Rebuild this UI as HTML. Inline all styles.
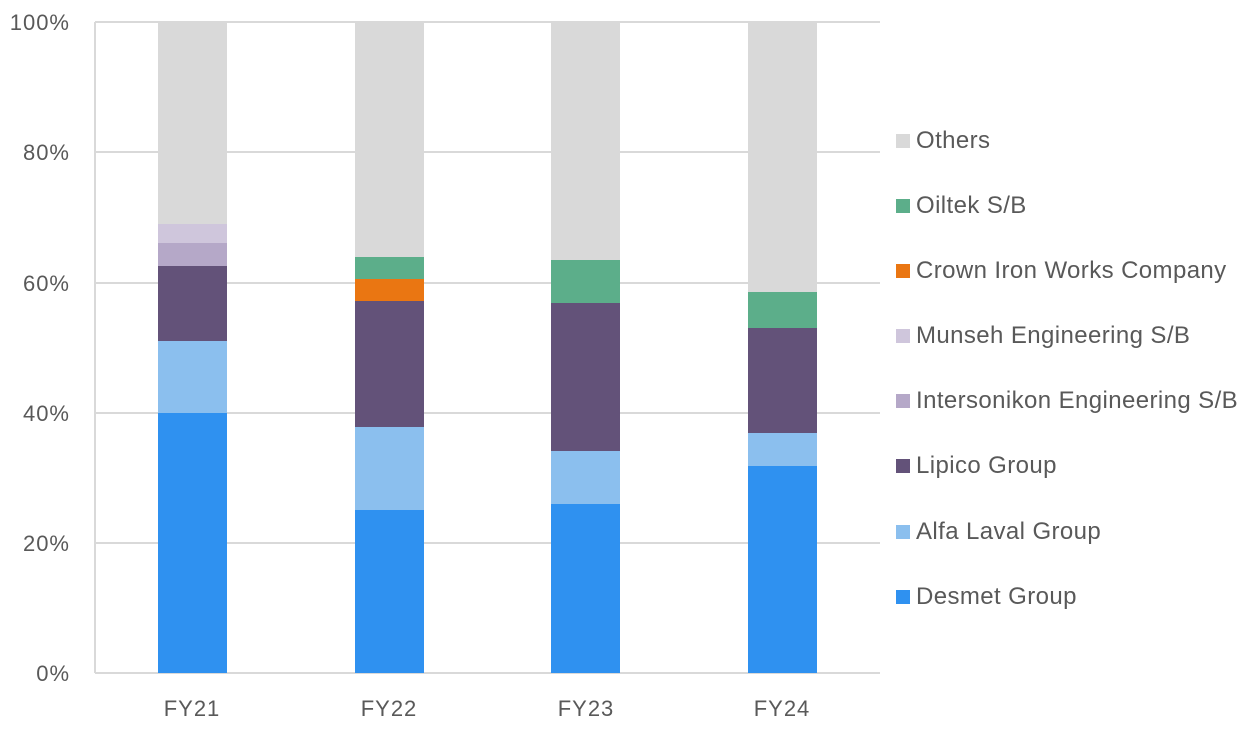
<!DOCTYPE html>
<html><head><style>body{margin:0;background:#fff}svg text{font-family:"Liberation Sans",sans-serif;fill:#595959}</style></head><body>
<svg width="1255" height="728" xmlns="http://www.w3.org/2000/svg">
<g stroke="#d9d9d9" stroke-width="2">
<line x1="95" y1="22" x2="880" y2="22"/><line x1="95" y1="152" x2="880" y2="152"/><line x1="95" y1="283" x2="880" y2="283"/><line x1="95" y1="413" x2="880" y2="413"/><line x1="95" y1="543" x2="880" y2="543"/><line x1="95" y1="673" x2="880" y2="673"/><line x1="95" y1="22" x2="95" y2="673"/>
</g>
<g font-size="22" text-anchor="end" letter-spacing="1">
<text x="70" y="30">100%</text><text x="70" y="160">80%</text><text x="70" y="291">60%</text><text x="70" y="421">40%</text><text x="70" y="551">20%</text><text x="70" y="681">0%</text>
</g>
<g font-size="22" text-anchor="middle" letter-spacing="1">
<text x="192" y="716">FY21</text><text x="389" y="716">FY22</text><text x="586" y="716">FY23</text><text x="782" y="716">FY24</text>
</g>
<rect x="158" y="22" width="69" height="202" fill="#d9d9d9"/>
<rect x="158" y="224" width="69" height="19" fill="#cfc6dc"/>
<rect x="158" y="243" width="69" height="23" fill="#b5a8c8"/>
<rect x="158" y="266" width="69" height="75" fill="#635279"/>
<rect x="158" y="341" width="69" height="72" fill="#8bbfee"/>
<rect x="158" y="413" width="69" height="260" fill="#2f91f0"/>
<rect x="355" y="22" width="69" height="235" fill="#d9d9d9"/>
<rect x="355" y="257" width="69" height="22" fill="#5cae8a"/>
<rect x="355" y="279" width="69" height="22" fill="#ea7612"/>
<rect x="355" y="301" width="69" height="126" fill="#635279"/>
<rect x="355" y="427" width="69" height="83" fill="#8bbfee"/>
<rect x="355" y="510" width="69" height="163" fill="#2f91f0"/>
<rect x="551" y="22" width="69" height="238" fill="#d9d9d9"/>
<rect x="551" y="260" width="69" height="43" fill="#5cae8a"/>
<rect x="551" y="303" width="69" height="148" fill="#635279"/>
<rect x="551" y="451" width="69" height="53" fill="#8bbfee"/>
<rect x="551" y="504" width="69" height="169" fill="#2f91f0"/>
<rect x="748" y="22" width="69" height="270" fill="#d9d9d9"/>
<rect x="748" y="292" width="69" height="36" fill="#5cae8a"/>
<rect x="748" y="328" width="69" height="105" fill="#635279"/>
<rect x="748" y="433" width="69" height="33" fill="#8bbfee"/>
<rect x="748" y="466" width="69" height="207" fill="#2f91f0"/>
<g font-size="24" letter-spacing="0.4">
<rect x="896" y="134" width="14" height="14" fill="#d9d9d9"/><text x="916" y="148">Others</text>
<rect x="896" y="199" width="14" height="14" fill="#5cae8a"/><text x="916" y="213">Oiltek S/B</text>
<rect x="896" y="264" width="14" height="14" fill="#ea7612"/><text x="916" y="278">Crown Iron Works Company</text>
<rect x="896" y="329" width="14" height="14" fill="#cfc6dc"/><text x="916" y="343">Munseh Engineering S/B</text>
<rect x="896" y="394" width="14" height="14" fill="#b5a8c8"/><text x="916" y="408">Intersonikon Engineering S/B</text>
<rect x="896" y="459" width="14" height="14" fill="#635279"/><text x="916" y="473">Lipico Group</text>
<rect x="896" y="525" width="14" height="14" fill="#8bbfee"/><text x="916" y="539">Alfa Laval Group</text>
<rect x="896" y="590" width="14" height="14" fill="#2f91f0"/><text x="916" y="604">Desmet Group</text>
</g>
</svg>
</body></html>
